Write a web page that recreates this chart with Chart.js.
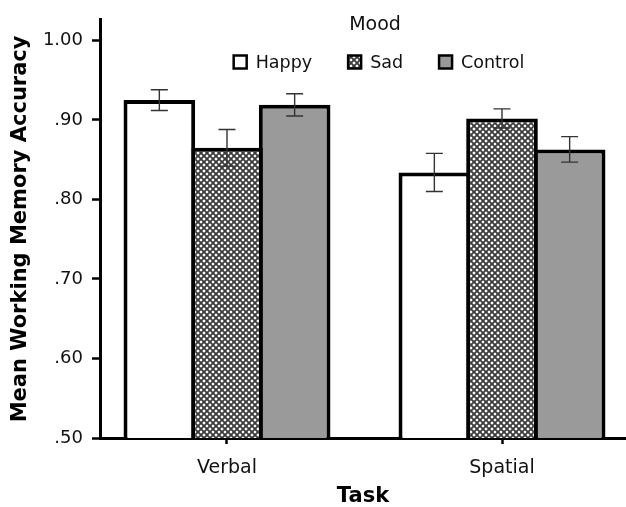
<!DOCTYPE html>
<html>
<head>
<meta charset="utf-8">
<script src="https://cdn.jsdelivr.net/npm/chart.js@4.4.1/dist/chart.umd.min.js"></script>
<style>
html,body{margin:0;padding:0;background:#fff;}
#wrap{width:626px;height:507px;}
</style>
</head>
<body>
<div id="wrap"><canvas id="c" width="626" height="507"></canvas></div>
<script>
// ---- data ----
const categories = ['Verbal', 'Spatial'];
const seriesNames = ['Happy', 'Sad', 'Control'];
const happy = [0.925, 0.834];
const sad = [0.865, 0.902];
const control = [0.919, 0.863];
const happyErr = [0.013, 0.024];
const sadErr = [0.023, 0.012];
const controlErr = [0.014, 0.016];
const yTicks = [0.50, 0.60, 0.70, 0.80, 0.90, 1.00];
const legendTitle = 'Mood';
const xTitle = 'Task';
const yTitle = 'Mean Working Memory Accuracy';

// crosshatch pattern for "Sad"
function makeHatch() {
  const s = 6;
  const c = document.createElement('canvas');
  c.width = s; c.height = s;
  const g = c.getContext('2d');
  g.fillStyle = '#ffffff';
  g.fillRect(0, 0, s, s);
  g.strokeStyle = '#3c3c3c';
  g.lineWidth = 1.9;
  g.beginPath();
  g.moveTo(-1, -1); g.lineTo(s + 1, s + 1);
  g.moveTo(-1, s + 1); g.lineTo(s + 1, -1);
  g.stroke();
  return g.createPattern(c, 'repeat');
}
const hatch = makeHatch();

const fills = ['#ffffff', hatch, '#9a9a9a'];
const values = [happy, sad, control];
const errors = [happyErr, sadErr, controlErr];

const datasets = seriesNames.map((name, k) => ({
  label: name,
  data: values[k].map((v, i) => ({x: i, y: v})),
  errs: errors[k],
  backgroundColor: fills[k],
  borderColor: '#000',
  borderWidth: 4,
  borderSkipped: 'start',
  inflateAmount: 0,
  barPercentage: 1.059,
  categoryPercentage: 0.738
}));

const errorBars = {
  id: 'errorBars',
  afterDatasetsDraw(chart) {
    const ctx = chart.ctx;
    const y = chart.scales.y;
    ctx.save();
    ctx.strokeStyle = '#333';
    ctx.lineWidth = 1.4;
    chart.data.datasets.forEach((ds, k) => {
      const meta = chart.getDatasetMeta(k);
      meta.data.forEach((bar, i) => {
        const v = ds.data[i].y, e = ds.errs[i];
        const x = bar.x;
        const yt = y.getPixelForValue(v + e);
        const yb = y.getPixelForValue(v - e);
        const cap = 8.5;
        ctx.beginPath();
        ctx.moveTo(x, yt); ctx.lineTo(x, yb);
        ctx.moveTo(x - cap, yt); ctx.lineTo(x + cap, yt);
        ctx.moveTo(x - cap, yb); ctx.lineTo(x + cap, yb);
        ctx.stroke();
      });
    });
    ctx.restore();
  }
};

const customLegend = {
  id: 'customLegend',
  afterDraw(chart) {
    const ctx = chart.ctx;
    ctx.save();
    ctx.fillStyle = '#111';
    ctx.textBaseline = 'middle';
    ctx.textAlign = 'center';
    ctx.font = '19px "DejaVu Sans"';
    ctx.fillText(legendTitle, 375, 25);
    ctx.font = '17.5px "DejaVu Sans"';
    ctx.textAlign = 'left';
    const box = 13, gapText = 9, gapItem = 36;
    const widths = seriesNames.map(n => ctx.measureText(n).width);
    let total = 0;
    widths.forEach((w, k) => { total += box + gapText + w + (k < widths.length - 1 ? gapItem : 0); });
    let x = 379 - total / 2;
    const cy = 62;
    seriesNames.forEach((n, k) => {
      ctx.fillStyle = fills[k];
      ctx.fillRect(x, cy - box / 2, box, box);
      ctx.strokeStyle = '#000';
      ctx.lineWidth = 2.5;
      ctx.strokeRect(x, cy - box / 2, box, box);
      ctx.fillStyle = '#111';
      ctx.fillText(n, x + box + gapText, cy + 1);
      x += box + gapText + widths[k] + gapItem;
    });
    ctx.restore();
  }
};

new Chart(document.getElementById('c'), {
  type: 'bar',
  data: { datasets },
  plugins: [errorBars, customLegend],
  options: {
    responsive: false,
    animation: false,
    layout: { padding: { top: 16, right: 0, bottom: 0, left: 0 } },
    plugins: { legend: { display: false }, tooltip: { enabled: false } },
    scales: {
      x: {
        type: 'linear',
        min: -0.4618,
        max: 1.4509,
        offset: false,
        afterBuildTicks: s => { s.ticks = categories.map((c, i) => ({value: i})); },
        afterFit: s => { s.height = 69; },
        ticks: {
          callback: v => categories[v],
          font: { family: 'DejaVu Sans', size: 19 },
          color: '#111',
          padding: 13,
          maxRotation: 0
        },
        grid: { offset: false, drawOnChartArea: false, drawTicks: true, tickLength: 6, tickWidth: 2.5, tickColor: '#000' },
        border: { display: true, color: '#000', width: 3 },
        title: {
          display: true, text: xTitle, color: '#000',
          font: { family: 'DejaVu Sans', size: 21, weight: 'bold', lineHeight: 1 },
          padding: { top: 0, bottom: 0 }
        }
      },
      y: {
        min: 0.5,
        max: 1.026,
        afterBuildTicks: s => { s.ticks = yTicks.map(v => ({value: v})); },
        afterFit: s => { s.width = 100; },
        ticks: {
          callback: v => (v >= 1 ? v.toFixed(2) : v.toFixed(2).replace(/^0/, '')),
          font: { family: 'DejaVu Sans', size: 18 },
          color: '#111',
          padding: 9
        },
        grid: { drawOnChartArea: false, drawTicks: true, tickLength: 8, tickWidth: 2.5, tickColor: '#000' },
        border: { display: true, color: '#000', width: 3 },
        title: {
          display: true, text: yTitle, color: '#000',
          font: { family: 'DejaVu Sans', size: 21, weight: 'bold' },
          padding: { top: 8, bottom: 0 }
        }
      }
    }
  }
});
</script>
</body>
</html>
